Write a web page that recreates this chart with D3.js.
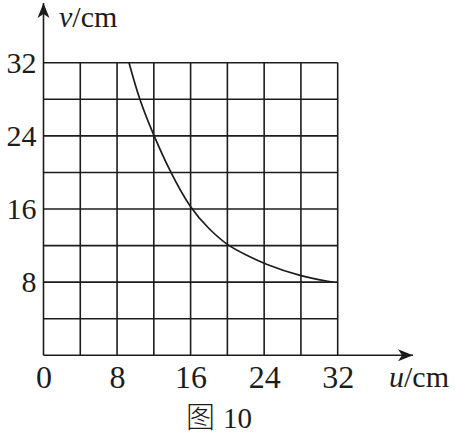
<!DOCTYPE html>
<html>
<head>
<meta charset="utf-8">
<script src="https://cdn.jsdelivr.net/npm/d3@7"></script>
<style>
  body { margin: 0; background: #fff; }
</style>
</head>
<body>
<svg width="457" height="437"></svg>
<script>
// tick labels on the axes
var uTicks = [0, 8, 16, 24, 32];
var vTicks = [8, 16, 24, 32];
// grid lines every 4 cm
var gridU = [4, 8, 12, 16, 20, 24, 28, 32];
var gridV = [4, 8, 12, 16, 20, 24, 28, 32];
// points
var curveU = [9.3, 10.4, 12, 13.8, 16, 18, 20, 22, 24, 28, 31.5];
var curveV = [32, 28, 24, 20, 16, 13.8, 12, 11, 10, 8.6, 8];

var serif = "'Liberation Serif', 'Times New Roman', serif";

var svg = d3.select("svg"),
  ink = "#1c1c1c";

var x = d3.scaleLinear().domain([0, 32]).range([43.5, 337.7]),
  y = d3.scaleLinear().domain([0, 32]).range([355.3, 62.7]);

// arrow heads
var defs = svg.append("defs");
defs.append("marker")
  .attr("id", "arrow")
  .attr("viewBox", "-16 -8 18 16")
  .attr("refX", 0)
  .attr("refY", 0)
  .attr("markerWidth", 18)
  .attr("markerHeight", 16)
  .attr("markerUnits", "userSpaceOnUse")
  .attr("orient", "auto")
  .append("path")
  .attr("d", "M0,0L-15,-6L-11,0L-15,6Z")
  .attr("fill", ink);

// grid
var grid = svg.append("g").attr("stroke", ink).attr("stroke-width", 1.6);

grid.selectAll(".gv")
  .data(gridU)
  .enter().append("line")
  .attr("x1", function(d) { return x(d); })
  .attr("x2", function(d) { return x(d); })
  .attr("y1", y(0))
  .attr("y2", y(32));

grid.selectAll(".gh")
  .data(gridV)
  .enter().append("line")
  .attr("x1", x(0))
  .attr("x2", x(32))
  .attr("y1", function(d) { return y(d); })
  .attr("y2", function(d) { return y(d); });

// axes with arrows
svg.append("line")
  .attr("x1", x(0)).attr("y1", y(0))
  .attr("x2", 413).attr("y2", y(0))
  .attr("stroke", ink).attr("stroke-width", 1.6)
  .attr("marker-end", "url(#arrow)");

svg.append("line")
  .attr("x1", x(0)).attr("y1", y(0))
  .attr("x2", x(0)).attr("y2", 3)
  .attr("stroke", ink).attr("stroke-width", 1.6)
  .attr("marker-end", "url(#arrow)");

// tick labels
var xAxis = svg.append("g")
  .attr("transform", "translate(0," + y(0) + ")")
  .call(d3.axisBottom(x).tickValues(uTicks).tickSize(0).tickPadding(10))
  .attr("font-family", serif)
  .attr("font-size", 32);
xAxis.select(".domain").remove();
xAxis.selectAll("text").attr("fill", ink);

var yAxis = svg.append("g")
  .attr("transform", "translate(" + x(0) + ",0)")
  .call(d3.axisLeft(y).tickValues(vTicks).tickSize(0).tickPadding(7))
  .attr("font-family", serif)
  .attr("font-size", 30);
yAxis.select(".domain").remove();
yAxis.selectAll("text").attr("fill", ink);

// curve
var pts = curveU.map(function(u, i) { return [u, curveV[i]]; });
var line = d3.line()
  .x(function(d) { return x(d[0]); })
  .y(function(d) { return y(d[1]); })
  .curve(d3.curveBasis);

svg.append("path")
  .datum(pts)
  .attr("d", line)
  .attr("fill", "none")
  .attr("stroke", ink)
  .attr("stroke-width", 1.7);

// axis titles
var vt = svg.append("text")
  .attr("x", 59)
  .attr("y", 27)
  .attr("font-family", serif)
  .attr("font-size", 30)
  .attr("fill", ink);
vt.append("tspan").attr("font-style", "italic").text("v");
vt.append("tspan").text("/cm");

var ut = svg.append("text")
  .attr("x", 389)
  .attr("y", 387)
  .attr("font-family", serif)
  .attr("font-size", 30)
  .attr("fill", ink);
ut.append("tspan").attr("font-style", "italic").text("u");
ut.append("tspan").text("/cm");

// caption
var cap = svg.append("text")
  .attr("x", 186)
  .attr("y", 428)
  .attr("font-family", serif)
  .attr("font-size", 29)
  .attr("fill", ink);
cap.append("tspan")
  .attr("font-family", "'Noto Sans CJK SC', sans-serif")
  .attr("font-weight", 300)
  .text("图");
cap.append("tspan").attr("dx", 8).text("10");
</script>
</body>
</html>
